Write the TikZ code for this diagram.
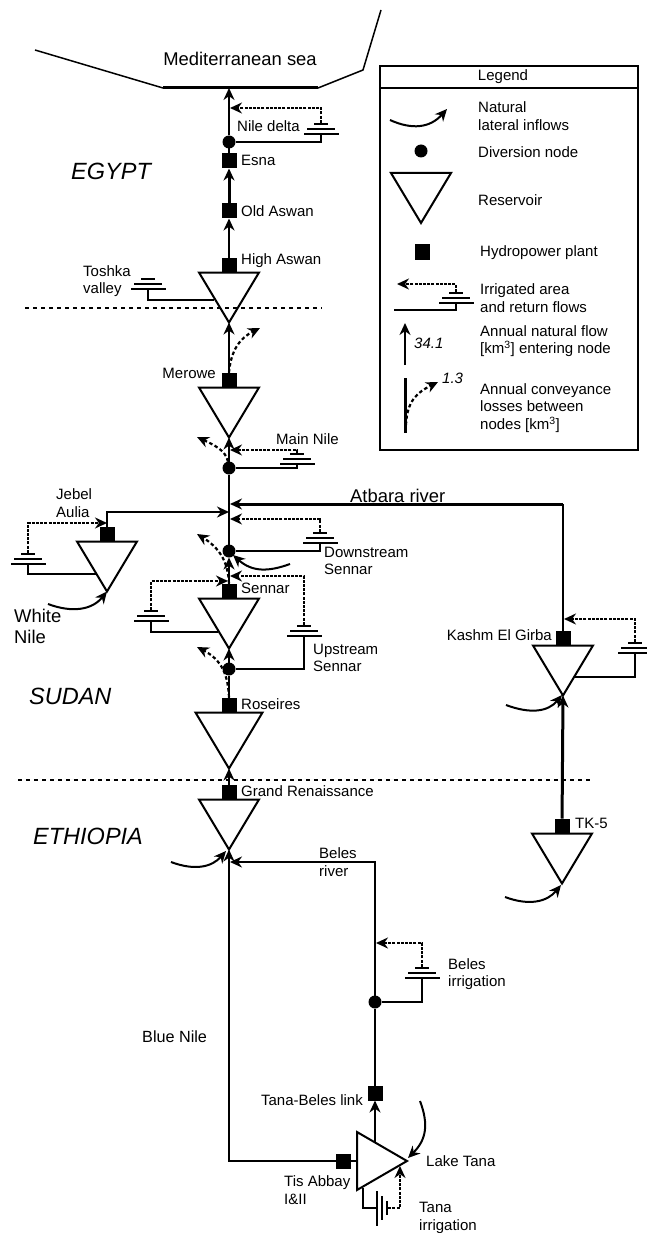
\documentclass[tikz,border=0pt]{standalone}
\usepackage{fontspec}
\setmainfont{Liberation Sans}
\usetikzlibrary{arrows.meta, shapes.geometric}
\tikzset{
  lab/.style = {font=\fontsize{15}{17.5}\selectfont, inner sep=0pt, align=left, anchor=west},
  biglab/.style = {lab, font=\fontsize{18.4}{21}\selectfont},
  country/.style = {lab, font=\fontsize{23.5}{26}\selectfont\itshape},
  hydro/.style = {rectangle, fill=black, minimum size=15pt, inner sep=0pt, outer sep=0pt},
  divnode/.style = {circle, fill=black, minimum size=13pt, inner sep=0pt, outer sep=0pt},
  reservoir/.style = {isosceles triangle, isosceles triangle stretches, draw, line width=2pt, shape border rotate=270, minimum width=60pt, minimum height=50pt, inner sep=0pt, outer sep=0pt, anchor=lower side},
  barlong/.style = {rectangle, fill=black, minimum width=35pt, minimum height=2.3pt, inner sep=0pt, outer sep=0pt},
  barmid/.style = {barlong, minimum width=28pt},
  barshort/.style = {barlong, minimum width=14pt},
  river/.style = {line width=2.2pt},
  bigriver/.style = {line width=3pt},
  flow/.style = {river, -{Stealth[length=12pt,width=11pt]}},
  bigflow/.style = {bigriver, -{Stealth[length=12pt,width=11pt]}},
  ret/.style = {line width=2.2pt, dash pattern=on 3pt off 1.2pt, -{Stealth[length=12pt,width=11pt]}},
  loss/.style = {ret, dash pattern=on 3.5pt off 2.5pt},
  inflow/.style = {line width=2pt, -{Stealth[length=12pt,width=11pt]}},
  border/.style = {line width=2.4pt, dash pattern=on 3.5pt off 4.5pt}
}
\newcommand{\irrig}[3]{%
  \node[barlong](#1l) at (#2,#3){};
  \node[barmid](#1m)[above of = #1l, node distance = 5pt]{};
  \node[barshort](#1s)[above of = #1m, node distance = 5pt]{};
}
\begin{document}
\begin{tikzpicture}[x=1pt, y=-1pt]
\useasboundingbox (0,0) rectangle (646,1233);
\node[divnode](delta) at (229,142){};
\node[hydro](esna)[below of = delta, node distance = 19pt]{};
\node[hydro](oldaswan)[below of = esna, node distance = 50pt]{};
\node[hydro](highaswan)[below of = oldaswan, node distance = 54pt]{};
\node[hydro](merowe)[below of = highaswan, node distance = 115pt]{};
\node[divnode](mainnile)[below of = merowe, node distance = 88pt]{};
\node[divnode](dsennar)[below of = mainnile, node distance = 83pt]{};
\node[hydro](sennar)[below of = dsennar, node distance = 40pt]{};
\node[divnode](usennar)[below of = sennar, node distance = 78pt]{};
\node[hydro](roseires)[below of = usennar, node distance = 36pt]{};
\node[hydro](grand)[below of = roseires, node distance = 87pt]{};
\node[hydro](jebel) at (107,534){};
\node[hydro](kashm) at (563,638){};
\node[hydro](tk5) at (562,826){};
\node[hydro](tanabeles) at (375,1093){};
\node[divnode](belesdiv)[above of = tanabeles, node distance = 91pt]{};
\node[hydro](tisabbay) at (343,1161){};

\node[reservoir](highaswantri) at (highaswan.south){};
\node[reservoir](merowetri) at (merowe.south){};
\node[reservoir](jebeltri) at (jebel.south){};
\node[reservoir](sennartri) at (sennar.south){};
\node[reservoir, minimum width=67pt, minimum height=56pt](roseirestri) at (roseires.south){};
\node[reservoir](grandtri) at (grand.south){};
\node[reservoir](kashmtri) at (kashm.south){};
\node[reservoir](tk5tri) at (tk5.south){};
\node[reservoir, shape border rotate=0, minimum width=58pt, anchor=apex](tanatri) at (407,1161){};

\irrig{deltair}{321}{134}
\irrig{toshka}{148}{289}
\irrig{nile}{297}{464}
\irrig{jebelir}{28}{564}
\irrig{dsir}{320}{543}
\irrig{sennarir}{151}{621}
\irrig{usir}{304}{636}
\irrig{kashmir}{635}{653}
\irrig{belesir}{422}{978}
\node[barlong, rotate=90](tanal) at (377,1208){};
\node[barmid, rotate=90, minimum width=24pt](tanam) at (382,1208){};
\node[barshort, rotate=90](tanas) at (387,1208){};

\coordinate (seaw) at (35,50);
\coordinate (seal) at (163,88);
\coordinate (seamid) at (229,88);
\coordinate (sear) at (318,88);
\coordinate (seae) at (363,70);
\coordinate (seatop) at (381,10);
\draw[line width=1.5pt] (seaw) -- (seal);
\draw[bigriver] (seal) -- (sear);
\draw[line width=1.5pt] (sear) -- (seae) -- (seatop);
\coordinate (egyptw) at (25,308);
\coordinate (egypte) at (322,308);
\coordinate (ethiow) at (18,780);
\coordinate (ethioe) at (592,780);
\draw[border] (egyptw) -- (egypte);
\draw[border] (ethiow) -- (ethioe);

\path (delta) edge[flow] (seamid);
\path (esna) edge[river] (delta);
\path (oldaswan) edge[bigflow] (esna);
\path (highaswan) edge[flow] (oldaswan);
\path (merowe) edge[flow] (highaswantri.apex);
\path (mainnile) edge[flow] (merowetri.apex);
\path (dsennar) edge[river] (mainnile);
\path (sennar) edge[flow] (dsennar);
\path (usennar) edge[flow] (sennartri.apex);
\path (roseires) edge[river] (usennar);
\path (grand) edge[flow] (roseirestri.apex);
\path (tk5) edge[bigflow] (kashmtri.apex);
\path (tanabeles) edge[river] (belesdiv);

\coordinate (atbarain) at (230,504);
\coordinate (atbaracorner) at (563,504);
\coordinate (jebelin) at (229,512);
\coordinate (belesin) at (230,862);
\coordinate (tanaout) at (375,1142);
\draw[river] (kashm.north) -- (atbaracorner);
\draw[bigflow] (atbaracorner) -- (atbarain);
\draw[flow] (jebel.north) |- (jebelin);
\draw[flow] (belesdiv) |- (belesin);
\draw[flow] (tisabbay) -| (grandtri.apex);
\draw[river] (tisabbay.east) -- (tisabbay.east -| tanatri.lower side);
\path (tanaout) edge[flow] (tanabeles);

\draw[river] (deltairl) |- (delta);
\coordinate (toshkain) at (214,300);
\draw[river] (toshkal) |- (toshkain);
\draw[river] (nilel) |- (mainnile);
\coordinate (jebelirin) at (97,574);
\draw[river] (jebelirl) |- (jebelirin);
\draw[river] (dsirl) |- (dsennar);
\coordinate (sennaririn) at (218,632);
\draw[river] (sennarirl) |- (sennaririn);
\draw[river] (usirl) |- (usennar);
\coordinate (kashmirin) at (575,677);
\draw[river] (kashmirl) |- (kashmirin);
\draw[river] (belesirl) |- (belesdiv);
\coordinate (tanabot) at (363,1188);
\draw[river] (tanabot) |- (tanal);

\coordinate (deltaret) at (230,108);
\coordinate (nileret) at (230,450);
\coordinate (jebelret) at (107,523);
\coordinate (dsret) at (230,519);
\coordinate (sennarret) at (228,581);
\coordinate (usret) at (230,576);
\coordinate (kashmret) at (564,619);
\coordinate (belesret) at (376,943);
\coordinate (tanaret) at (400,1166);
\draw[ret] (deltairs) |- (deltaret);
\draw[ret] (niles) |- (nileret);
\draw[ret] (jebelirs) |- (jebelret);
\draw[ret] (dsirs) |- (dsret);
\draw[ret] (sennarirs) |- (sennarret);
\draw[ret] (usirs) |- (usret);
\draw[ret] (kashmirs) |- (kashmret);
\draw[ret] (belesirs) |- (belesret);
\draw[ret] (tanas) -| (tanaret);

\coordinate (lossmerowe) at (260,328);
\coordinate (lossnile) at (197,437);
\coordinate (lossds) at (197,534);
\coordinate (lossus) at (197,647);
\draw[loss] (merowe.north) .. controls (231,350) and (240,338) .. (lossmerowe);
\draw[loss] (mainnile) .. controls (226,450) and (212,444) .. (lossnile);
\draw[loss] (sennar.north) .. controls (228,560) and (218,547) .. (lossds);
\draw[loss] (roseires.north) .. controls (228,675) and (222,660) .. (lossus);

\coordinate (wnstart) at (48,604);
\coordinate (dsstart) at (290,564);
\coordinate (kashmstart) at (506,705);
\coordinate (tk5start) at (505,897);
\coordinate (grandstart) at (171,862);
\coordinate (tanastart) at (420,1101);
\coordinate (dsend) at (233,555);
\coordinate (kashmend) at (562,695);
\coordinate (tk5end) at (561,885);
\coordinate (grandend) at (226,851);
\coordinate (tanaend) at (408,1158);
\draw[inflow] (wnstart) .. controls (72,613) and (92,610) .. (jebeltri.apex);
\draw[inflow] (dsstart) .. controls (268,572) and (252,572) .. (dsend);
\draw[inflow] (kashmstart) .. controls (530,714) and (548,712) .. (kashmend);
\draw[inflow] (tk5start) .. controls (529,906) and (547,902) .. (tk5end);
\draw[inflow] (grandstart) .. controls (195,871) and (212,867) .. (grandend);
\draw[inflow] (tanastart) .. controls (429,1125) and (426,1140) .. (tanaend);

\node[biglab, anchor=center](sea) at (240,59){Mediterranean sea};
\node[biglab](atbaral) at (350,496){Atbara river};
\node[biglab, anchor=north west](whitel) at (14,609){White\\Nile};
\node[lab, font=\fontsize{16.2}{19}\selectfont](bluel) at (142,1037){Blue Nile};
\node[country](egyptl) at (71,171){EGYPT};
\node[country](sudanl) at (29,696){SUDAN};
\node[country](ethiol) at (33,836){ETHIOPIA};
\node[lab](deltal) at (237,126){Nile delta};
\node[lab](esnal) at (241,160){Esna};
\node[lab](oldaswanl) at (241,211){Old Aswan};
\node[lab](highaswanl) at (241,261){High Aswan};
\node[lab](toshkalab) at (83,281){Toshka\\valley};
\node[lab, anchor=east](merowel) at (216,373){Merowe};
\node[lab](mainnilel) at (276,439){Main Nile};
\node[lab](jebell) at (56,503){Jebel\\Aulia};
\node[lab](dsennarl) at (324,561){Downstream\\Sennar};
\node[lab](sennarl) at (241,588){Sennar};
\node[lab](usennarl) at (313,658){Upstream\\Sennar};
\node[lab](roseiresl) at (241,704){Roseires};
\node[lab](grandl) at (241,791){Grand Renaissance};
\node[lab, anchor=east](kashml) at (552,635){Kashm El Girba};
\node[lab](tk5l) at (575,823){TK-5};
\node[lab](belesl) at (319,862){Beles\\river};
\node[lab](belesirl2) at (448,974){Beles\\irrigation};
\node[lab, anchor=east](tanabelesl) at (363,1100){Tana-Beles link};
\node[lab](tisabbayl) at (284,1190){Tis Abbay\\I\&II};
\node[lab](lakel) at (426,1161){Lake Tana};
\node[lab](tanairl) at (419,1218){Tana\\irrigation};

\node[draw, line width=2.2pt, minimum width=258pt, minimum height=22pt, inner sep=0pt](legendtitle) at (509,77){};
\node[draw, line width=2.2pt, minimum width=258pt, minimum height=362pt, inner sep=0pt](legendbox) at (509,269){};
\node[lab, anchor=center](legendl) at (503,77){Legend};
\coordinate (leginflow) at (390,120);
\coordinate (leginflowend) at (447,109);
\draw[inflow] (leginflow) .. controls (412,130) and (430,128) .. (leginflowend);
\node[lab](natural) at (478,116){Natural\\lateral inflows};
\node[divnode](legdiv) at (421,151){};
\node[lab](legdivl) at (478,152){Diversion node};
\node[reservoir, anchor=lower side](legres) at (421,173){};
\node[lab](legresl) at (478,200){Reservoir};
\node[hydro](leghydro) at (422.5,252){};
\node[lab](leghydrol) at (480,253){Hydropower plant};
\irrig{legir}{456}{303}
\coordinate (legirout) at (394,310);
\coordinate (legirret) at (397,284);
\draw[river] (legirl) |- (legirout);
\draw[ret] (legirs) |- (legirret);
\node[lab](legirlab) at (480,298){Irrigated area\\and return flows};
\coordinate (legflow) at (405,365);
\coordinate (legflowend) at (405,323);
\draw[inflow] (legflow) -- (legflowend);
\node[lab, font=\fontsize{15}{17}\selectfont\itshape](legflowv) at (414,343){34.1};
\node[lab](legflowl) at (480,341){Annual natural flow\\{[km\textsuperscript{3}]} entering node};
\coordinate (leglosstop) at (405,378);
\coordinate (leglossbot) at (405,433);
\coordinate (leglossend) at (438,382);
\draw[bigriver] (leglosstop) -- (leglossbot);
\draw[loss] (406,425) .. controls (407,400) and (418,392) .. (leglossend);
\node[lab, font=\fontsize{15}{17}\selectfont\itshape](leglossv) at (442,378){1.3};
\node[lab](leglossl) at (480,408){Annual conveyance\\losses between\\nodes [km\textsuperscript{3}]};
\end{tikzpicture}
\end{document}
